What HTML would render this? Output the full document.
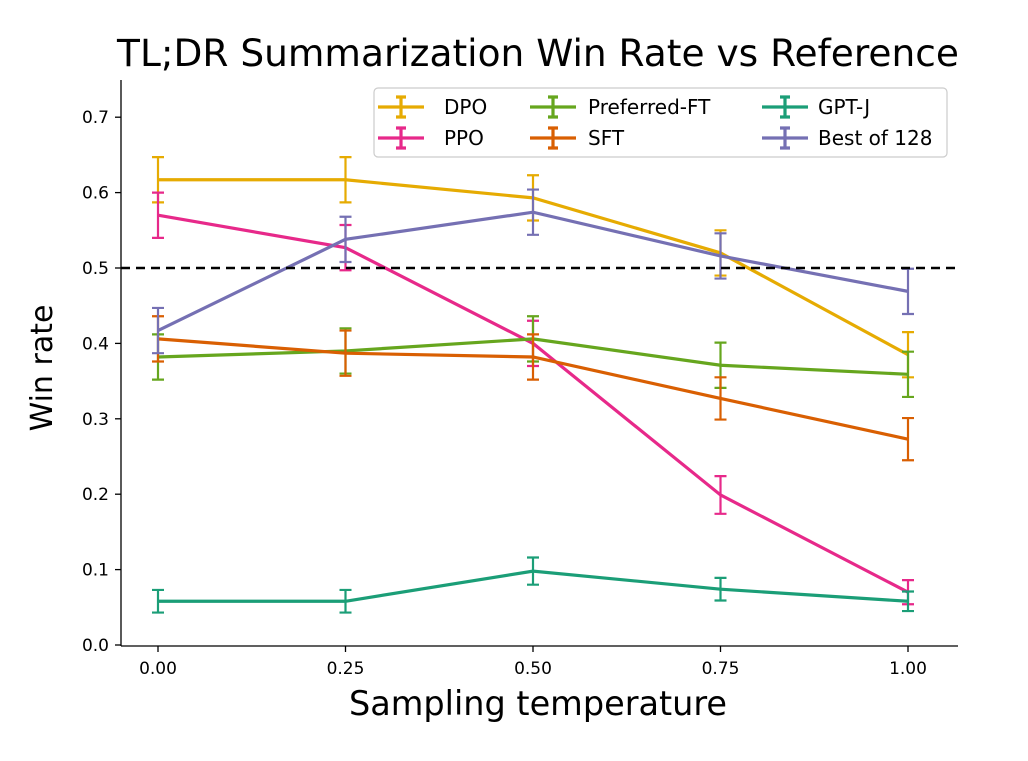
<!DOCTYPE html>
<html><head><meta charset="utf-8"><style>
body{margin:0;background:#fff;}
svg text{font-family:"DejaVu Sans","Liberation Sans",sans-serif;}
</style></head><body>
<svg id="chart" width="1028" height="756" xmlns="http://www.w3.org/2000/svg">
<text x="538" y="66" font-size="37.5" text-anchor="middle">TL;DR Summarization Win Rate vs Reference</text>
<g id="grid"></g>
<g id="series"></g>
<line id="refline" stroke="#000" stroke-width="2.4" stroke-dasharray="9,6"/>
<line x1="121" y1="80" x2="121" y2="646" stroke="#000" stroke-width="1.3"/>
<line x1="121" y1="646" x2="958" y2="646" stroke="#000" stroke-width="1.3"/>
<g id="ticks"></g>
<text x="538" y="715" font-size="33.5" text-anchor="middle">Sampling temperature</text>
<text transform="translate(52,368) rotate(-90)" font-size="30" text-anchor="middle">Win rate</text>
<g>
<rect x="374" y="88" width="573" height="69" rx="4" fill="#fff" fill-opacity="0.8" stroke="#ccc" stroke-width="1.2"/>
<g id="legend"></g>
</g>
</svg>
<script>
const temps=[0.0,0.25,0.5,0.75,1.0];
const names=["DPO","PPO","Preferred-FT","SFT","GPT-J","Best of 128"];
const colors=["#e6ab02","#e7298a","#66a61e","#d95f02","#1b9e77","#7570b3"];
const dpo=[0.617,0.617,0.593,0.52,0.385];
const dpoErr=[0.03,0.03,0.03,0.03,0.03];
const ppo=[0.57,0.527,0.4,0.199,0.07];
const ppoErr=[0.03,0.03,0.03,0.025,0.016];
const pft=[0.382,0.39,0.406,0.371,0.359];
const pftErr=[0.03,0.03,0.03,0.03,0.03];
const sft=[0.406,0.387,0.382,0.327,0.273];
const sftErr=[0.03,0.03,0.03,0.028,0.028];
const gptj=[0.058,0.058,0.098,0.074,0.058];
const gptjErr=[0.015,0.015,0.018,0.015,0.013];
const bo128=[0.417,0.538,0.574,0.516,0.469];
const bo128Err=[0.03,0.03,0.03,0.03,0.03];
const xTicks=["0.00","0.25","0.50","0.75","1.00"];
const yTicks=[0.0,0.1,0.2,0.3,0.4,0.5,0.6,0.7];
const refValue=0.5;
const X=v=>158+v*750;
const Y=v=>645-v*754;
const NS="http://www.w3.org/2000/svg";
function mk(tag,attrs,parent){const e=document.createElementNS(NS,tag);for(const k in attrs)e.setAttribute(k,attrs[k]);parent.appendChild(e);return e;}
const ticks=document.getElementById('ticks');
xTicks.forEach((t,i)=>{const x=X(parseFloat(t));
 const l=mk('line',{x1:x,y1:646,x2:x,y2:652,stroke:'#000','stroke-width':1.3},ticks);
 
 
 const tx=mk('text',{x:x,y:674,'font-size':17,'text-anchor':'middle'},ticks);tx.textContent=t;
 
 });
yTicks.forEach(v=>{const y=Y(v);
 const l=mk('line',{x1:115,y1:y,x2:121,y2:y,stroke:'#000','stroke-width':1.3},ticks);
 
 
 const tx=mk('text',{x:109,y:y+6,'font-size':17,'text-anchor':'end'},ticks);tx.textContent=v.toFixed(1);
 
 });
const rl=document.getElementById('refline');
rl.setAttribute('x1',121);rl.setAttribute('x2',958);rl.setAttribute('y1',Y(refValue));rl.setAttribute('y2',Y(refValue));
const vals=[dpo,ppo,pft,sft,gptj,bo128];
const errs=[dpoErr,ppoErr,pftErr,sftErr,gptjErr,bo128Err];
const sg=document.getElementById('series');
vals.forEach((s,k)=>{const g=mk('g',{},sg);
 
 
 const pts=s.map((v,i)=>X(temps[i])+','+Y(v)).join(' ');
 const pl=mk('polyline',{points:pts,fill:'none',stroke:colors[k],'stroke-width':3.2},g);
 
 
 s.forEach((v,i)=>{const x=X(temps[i]),y1=Y(v-errs[k][i]),y2=Y(v+errs[k][i]);
  const e=mk('path',{d:`M${x},${y1}V${y2}M${x-6},${y1}H${x+6}M${x-6},${y2}H${x+6}`,stroke:colors[k],'stroke-width':2.2,fill:'none'},g);
  
  });
});
const lg=document.getElementById('legend');
const lpos=[[378,107],[378,138],[530,107],[530,138],[762,107],[762,138]];
names.forEach((n,k)=>{const [x,y]=lpos[k];const g=mk('g',{},lg);
 
 
 mk('path',{d:`M${x},${y}H${x+46}M${x+23},${y-10}V${y+10}M${x+18},${y-10}H${x+28}M${x+18},${y+10}H${x+28}`,stroke:colors[k],'stroke-width':3.2,fill:'none'},g);
 const t=mk('text',{x:x+(k<2?66:k<4?58:56),y:y+7,'font-size':20},g);t.textContent=n;});
</script>
</body></html>
